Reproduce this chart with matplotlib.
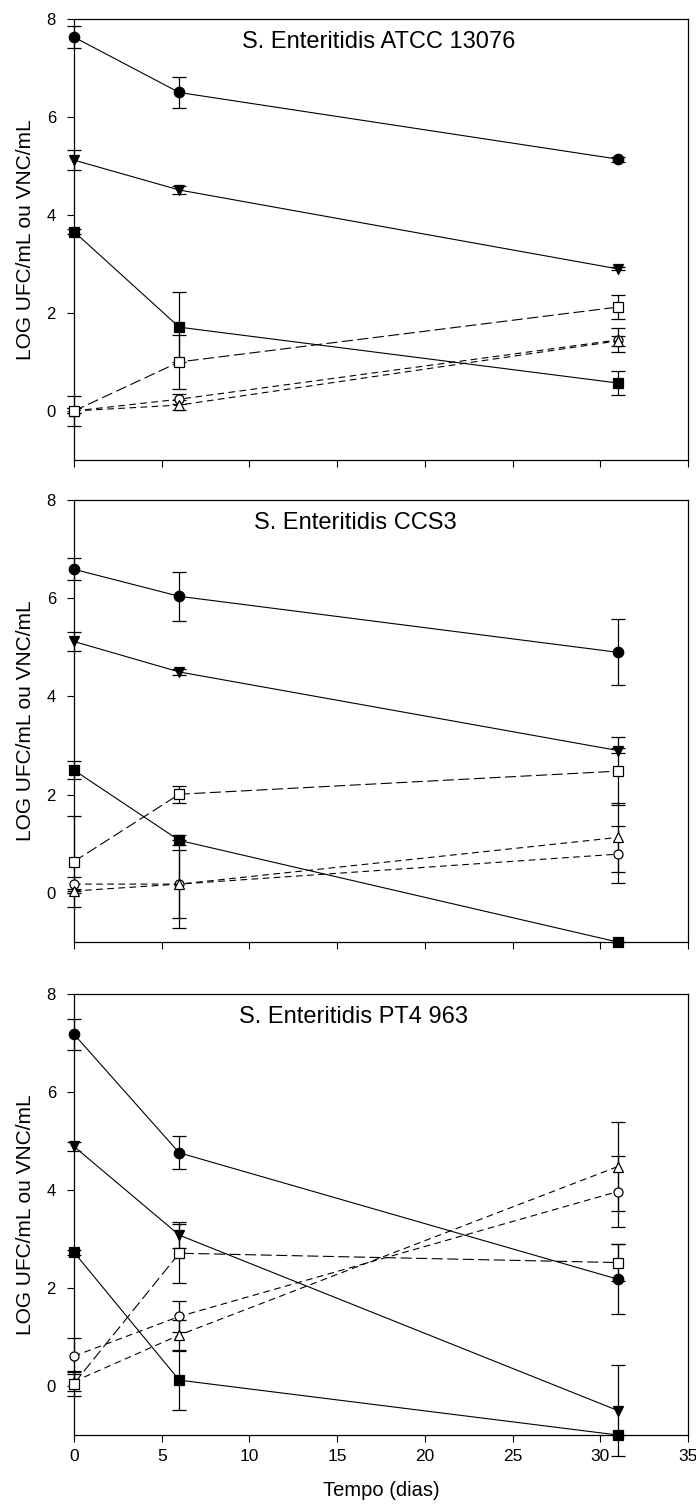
import numpy as np
import matplotlib
matplotlib.use("Agg")
import matplotlib.pyplot as plt

plt.rcParams['font.family'] = ['Liberation Sans', 'DejaVu Sans']

# sampling days
days = [0, 6, 31]

titles = ["S. Enteritidis ATCC 13076", "S. Enteritidis CCS3", "S. Enteritidis PT4 963"]

# ATCC 13076
a_circ_f = [7.63, 6.50, 5.14]; a_circ_f_err = [0.23, 0.32, 0.05]
a_tri_f = [5.12, 4.51, 2.90]; a_tri_f_err = [0.20, 0.08, 0.03]
a_sq_f = [3.66, 1.71, 0.57]; a_sq_f_err = [0.05, 0.71, 0.25]
a_circ_o = [0.00, 0.24, 1.45]; a_circ_o_err = [0.05, 0.10, 0.25]
a_tri_o = [0.00, 0.12, 1.43]; a_tri_o_err = [0.05, 0.10, 0.10]
a_sq_o = [0.00, 1.00, 2.12]; a_sq_o_err = [0.30, 0.55, 0.25]

# CCS3
c_circ_f = [6.59, 6.04, 4.90]; c_circ_f_err = [0.22, 0.50, 0.67]
c_tri_f = [5.12, 4.50, 2.90]; c_tri_f_err = [0.20, 0.07, 0.05]
c_sq_f = [2.50, 1.07, -1.00]; c_sq_f_err = [0.18, 0.10, 0.00]
c_circ_o = [0.18, 0.18, 0.79]; c_circ_o_err = [0.15, 0.70, 0.58]
c_tri_o = [0.04, 0.18, 1.13]; c_tri_o_err = [0.05, 0.89, 0.70]
c_sq_o = [0.64, 2.01, 2.48]; c_sq_o_err = [0.92, 0.17, 0.69]

# PT4 963
p_circ_f = [7.18, 4.76, 2.18]; p_circ_f_err = [0.32, 0.34, 0.72]
p_tri_f = [4.89, 3.08, -0.50]; p_tri_f_err = [0.10, 0.26, 0.93]
p_sq_f = [2.73, 0.12, -1.00]; p_sq_f_err = [0.05, 0.60, 0.00]
p_circ_o = [0.61, 1.42, 3.97]; p_circ_o_err = [0.36, 0.31, 0.73]
p_tri_o = [0.09, 1.04, 4.48]; p_tri_o_err = [0.20, 0.30, 0.91]
p_sq_o = [0.05, 2.71, 2.52]; p_sq_o_err = [0.25, 0.60, 0.38]

panels = [
    [(a_circ_f, a_circ_f_err), (a_tri_f, a_tri_f_err), (a_sq_f, a_sq_f_err),
     (a_circ_o, a_circ_o_err), (a_tri_o, a_tri_o_err), (a_sq_o, a_sq_o_err)],
    [(c_circ_f, c_circ_f_err), (c_tri_f, c_tri_f_err), (c_sq_f, c_sq_f_err),
     (c_circ_o, c_circ_o_err), (c_tri_o, c_tri_o_err), (c_sq_o, c_sq_o_err)],
    [(p_circ_f, p_circ_f_err), (p_tri_f, p_tri_f_err), (p_sq_f, p_sq_f_err),
     (p_circ_o, p_circ_o_err), (p_tri_o, p_tri_o_err), (p_sq_o, p_sq_o_err)],
]

# marker, fill, marker size, line dashes
styles = [
    ('o', 'black', 7.5, '-'),
    ('v', 'black', 6.5, '-'),
    ('s', 'black', 6.5, '-'),
    ('o', 'white', 6.5, (0, (6, 4))),
    ('^', 'white', 6.5, (0, (6, 4))),
    ('s', 'white', 6.5, (0, (10, 4))),
]

title_x = [0.497, 0.458, 0.456]
axes_rect = [
    [0.1063, 0.6950, 0.8822, 0.2924],
    [0.1063, 0.3753, 0.8822, 0.2931],
    [0.1063, 0.0484, 0.8822, 0.2924],
]

fig = plt.figure(figsize=(6.96, 15.08), dpi=100)

for i in range(3):
    ax = fig.add_axes(axes_rect[i])
    for (vals, errs), (mk, fc, ms, ls) in zip(panels[i], styles):
        ax.errorbar(days, vals, yerr=errs, color='black', linestyle=ls, linewidth=0.8,
                    marker=mk, markerfacecolor=fc, markeredgecolor='black',
                    markersize=ms, markeredgewidth=0.9, elinewidth=0.9,
                    capsize=5, capthick=0.9, clip_on=False, zorder=3)
    ax.set_xlim(0, 35)
    ax.set_ylim(-1, 8)
    ax.set_xticks(np.arange(0, 36, 5))
    ax.set_yticks([0, 2, 4, 6, 8])
    ax.tick_params(direction='out', length=5, width=0.8)
    ax.tick_params(axis='y', labelsize=12, pad=8)
    ax.tick_params(axis='x', labelsize=12.5, pad=5)
    for sp in ax.spines.values():
        sp.set_linewidth(0.9)
    if i < 2:
        ax.tick_params(labelbottom=False)
    else:
        ax.set_xlabel("Tempo (dias)", fontsize=14.5, labelpad=12)
    ax.set_ylabel("LOG UFC/mL ou VNC/mL", fontsize=15, labelpad=8)
    ax.text(title_x[i], 0.948, titles[i], transform=ax.transAxes,
            ha='center', va='center', fontsize=17)

fig.savefig("out.png", dpi=100)
